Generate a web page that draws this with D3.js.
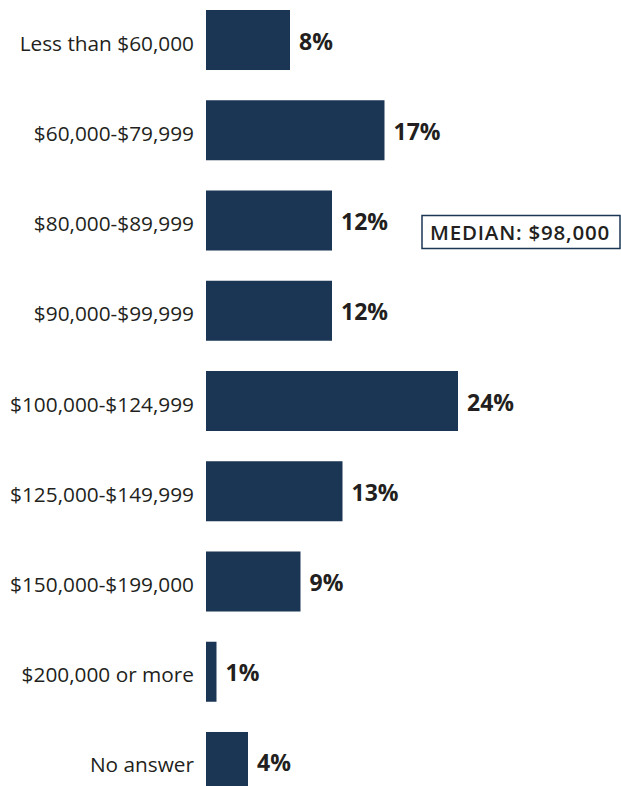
<html>
<head>
    <meta charset="utf-8">
    <title>Income distribution</title>
    <style>
        body { margin: 0; background: #fff; }
        .cat { font: 20.8px "Open Sans", sans-serif; fill: #231f20; }
        .val { font: bold 23px "Open Sans", sans-serif; fill: #231f20; }
        .median { font: 600 20.5px "Open Sans", sans-serif; fill: #231f20; letter-spacing: 0.8px; }
    </style>
</head>
<body>
<script src="https://cdn.jsdelivr.net/npm/d3@7"></script>
<script>
    // categories and shares (%)
    var categories = [
        "Less than $60,000",
        "$60,000-$79,999",
        "$80,000-$89,999",
        "$90,000-$99,999",
        "$100,000-$124,999",
        "$125,000-$149,999",
        "$150,000-$199,000",
        "$200,000 or more",
        "No answer"
    ];
    var values = [8, 17, 12, 12, 24, 13, 9, 1, 4];
    var medianLabel = "MEDIAN: $98,000";

    var width = 621, height = 786;
    var left = 206;

    var svg = d3.select("body").append("svg")
        .attr("width", width)
        .attr("height", height);

    // 10.5px per percentage point
    var x = d3.scaleLinear()
        .domain([0, 24])
        .range([left, left + 252]);

    var y = d3.scaleBand()
        .domain(categories)
        .range([10, 792])
        .paddingInner(0.335)
        .paddingOuter(0);

    var rows = svg.append("g")
        .selectAll("g")
        .data(categories.map((c, i) => ({ name: c, value: values[i] })))
        .join("g");

    rows.append("rect")
        .attr("x", x(0))
        .attr("y", d => y(d.name))
        .attr("width", d => x(d.value) - x(0))
        .attr("height", y.bandwidth())
        .attr("fill", "#1b3654");

    rows.append("text")
        .attr("class", "cat")
        .attr("x", left - 12)
        .attr("y", d => y(d.name) + y.bandwidth() / 2 + 10.5)
        .attr("text-anchor", "end")
        .text(d => d.name);

    rows.append("text")
        .attr("class", "val")
        .attr("x", d => x(d.value) + 9)
        .attr("y", d => y(d.name) + y.bandwidth() / 2 + 9.5)
        .text(d => d.value + "%");

    // median call-out beside the $80,000-$89,999 row
    var my = y(categories[2]) + y.bandwidth() / 2;
    var mg = svg.append("g");
    mg.append("rect")
        .attr("x", 422)
        .attr("y", my - 5)
        .attr("width", 198)
        .attr("height", 33)
        .attr("fill", "#fff")
        .attr("stroke", "#1b3654")
        .attr("stroke-width", 1.5);
    mg.append("text")
        .attr("class", "median")
        .attr("x", 430)
        .attr("y", my + 19)
        .text(medianLabel);
</script>
</body>
</html>
